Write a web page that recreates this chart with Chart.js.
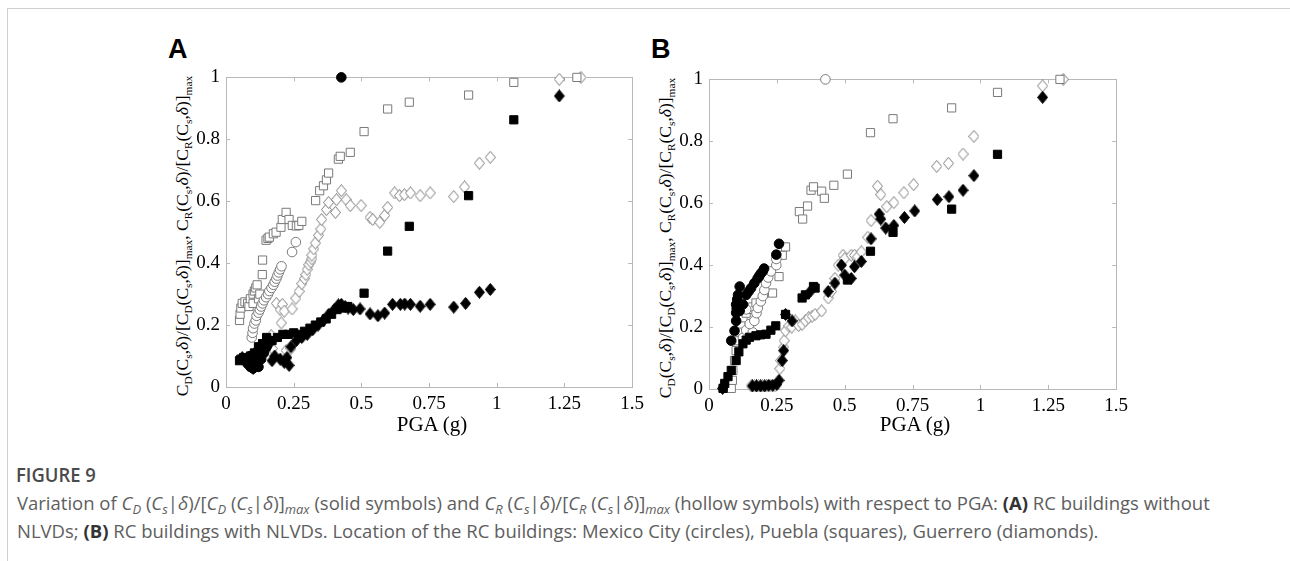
<!DOCTYPE html>
<html>
<head>
<meta charset="utf-8">
<script src="https://cdn.jsdelivr.net/npm/chart.js@4.4.1/dist/chart.umd.min.js"></script>
<style>
  body { margin: 0; background: #fff; width: 1290px; height: 561px; overflow: hidden; position: relative; }
  .frame { position: absolute; left: 7px; top: 8px; width: 1400px; height: 700px; border-left: 1px solid #cfcfcf; border-top: 1px solid #cfcfcf; }
  canvas { position: absolute; }
  .letter { position: absolute; top: 36px; font: bold 27px/27px "Liberation Sans", Arial, sans-serif; color: #000; }
  .ytitle { position: absolute; width: 360px; height: 24px; line-height: 24px; text-align: center; white-space: nowrap;
            font: 17.5px "Liberation Serif", "Times New Roman", serif; color: #000; transform: rotate(-90deg); }
  .ytitle sub { font-size: 0.65em; line-height: 0; vertical-align: -0.35em; }
  .xtitle { position: absolute; top: 414px; width: 200px; text-align: center; font: 21px/21px "Liberation Serif", serif; color: #000; }
  .fig { position: absolute; left: 16px; top: 462px; font: 600 20px/26px "Open Sans", sans-serif; color: #4a4a4a; transform: scaleX(0.92); transform-origin: left top; }
  .caption { position: absolute; left: 17px; top: 489px; font: 18.5px/28px "Open Sans", sans-serif; color: #5e5e5e; white-space: nowrap; }
  .caption sub { font-size: 0.7em; line-height: 0; vertical-align: -0.3em; }
  .caption b { font-weight: 700; color: #333; }
</style>
</head>
<body>
<div class="frame"></div>

<div class="letter" style="left:168px">A</div>
<div class="letter" style="left:651px">B</div>

<div class="ytitle" style="left:4px; top:224px">C<sub>D</sub>(C<sub>s</sub>,<i>δ</i>)/[C<sub>D</sub>(C<sub>s</sub>,<i>δ</i>)]<sub>max</sub>, C<sub>R</sub>(C<sub>s</sub>,<i>δ</i>)/[C<sub>R</sub>(C<sub>s</sub>,<i>δ</i>)]<sub>max</sub></div>
<div class="ytitle" style="left:487px; top:226px">C<sub>D</sub>(C<sub>s</sub>,<i>δ</i>)/[C<sub>D</sub>(C<sub>s</sub>,<i>δ</i>)]<sub>max</sub>, C<sub>R</sub>(C<sub>s</sub>,<i>δ</i>)/[C<sub>R</sub>(C<sub>s</sub>,<i>δ</i>)]<sub>max</sub></div>

<canvas id="chartA" width="520" height="375" style="left:130px; top:60px"></canvas>
<canvas id="chartB" width="521" height="375" style="left:613px; top:62px"></canvas>

<div class="xtitle" style="left:332px">PGA (g)</div>
<div class="xtitle" style="left:815px">PGA (g)</div>

<div class="fig">FIGURE 9</div>
<div class="caption">Variation of <i>C<sub>D</sub></i> (<i>C<sub>s</sub></i>|<i>δ</i>)/[<i>C<sub>D</sub></i> (<i>C<sub>s</sub></i>|<i>δ</i>)]<sub><i>max</i></sub> (solid symbols) and <i>C<sub>R</sub></i> (<i>C<sub>s</sub></i>|<i>δ</i>)/[<i>C<sub>R</sub></i> (<i>C<sub>s</sub></i>|<i>δ</i>)]<sub><i>max</i></sub> (hollow symbols) with respect to PGA: <b>(A)</b> RC buildings without<br>NLVDs; <b>(B)</b> RC buildings with NLVDs. Location of the RC buildings: Mexico City (circles), Puebla (squares), Guerrero (diamonds).</div>

<script>
const xTickLabels = ['0', '0.25', '0.5', '0.75', '1', '1.25', '1.5'];
const yTickLabels = ['0', '0.2', '0.4', '0.6', '0.8', '1'];

// Panel A: RC buildings without NLVDs  [PGA (g), normalised value]
const aCircleSolid = [[0.426,1.0],[0.08,0.075],[0.09,0.065],[0.1,0.06],[0.11,0.07],[0.12,0.065],[0.1,0.09],[0.09,0.1],[0.13,0.09],[0.14,0.11],[0.12,0.12],[0.15,0.13],[0.16,0.15]];
const aCircleHollow = [[0.095,0.16],[0.098,0.175],[0.1,0.19],[0.105,0.205],[0.11,0.215],[0.113,0.23],[0.12,0.24],[0.125,0.25],[0.13,0.26],[0.135,0.27],[0.14,0.28],[0.148,0.29],[0.155,0.3],[0.16,0.31],[0.168,0.32],[0.175,0.33],[0.18,0.34],[0.186,0.35],[0.19,0.36],[0.195,0.37],[0.2,0.38],[0.205,0.39],[0.244,0.436],[0.258,0.468]];
const aSquareSolid = [[0.05,0.085],[0.055,0.09],[0.065,0.095],[0.075,0.09],[0.09,0.1],[0.105,0.11],[0.12,0.13],[0.135,0.14],[0.15,0.16],[0.17,0.15],[0.19,0.16],[0.21,0.17],[0.23,0.17],[0.25,0.175],[0.27,0.17],[0.29,0.18],[0.31,0.19],[0.33,0.2],[0.35,0.21],[0.37,0.22],[0.39,0.235],[0.41,0.25],[0.43,0.255],[0.45,0.26],[0.51,0.303],[0.597,0.439],[0.677,0.519],[0.896,0.618],[1.063,0.863]];
const aSquareHollow = [[0.05,0.215],[0.052,0.235],[0.055,0.255],[0.06,0.27],[0.07,0.275],[0.08,0.27],[0.085,0.26],[0.09,0.285],[0.1,0.3],[0.1,0.27],[0.105,0.31],[0.11,0.32],[0.115,0.33],[0.12,0.285],[0.125,0.3],[0.134,0.363],[0.135,0.41],[0.148,0.474],[0.155,0.48],[0.16,0.484],[0.175,0.495],[0.185,0.5],[0.203,0.516],[0.208,0.541],[0.222,0.564],[0.233,0.541],[0.245,0.522],[0.26,0.52],[0.269,0.522],[0.28,0.535],[0.331,0.602],[0.346,0.634],[0.36,0.65],[0.371,0.669],[0.379,0.691],[0.415,0.736],[0.422,0.745],[0.459,0.758],[0.51,0.825],[0.597,0.898],[0.677,0.92],[0.896,0.943],[1.063,0.984],[1.296,1.0]];
const aDiamondSolid = [[0.06,0.095],[0.075,0.08],[0.09,0.07],[0.1,0.06],[0.115,0.075],[0.13,0.1],[0.145,0.12],[0.16,0.14],[0.17,0.085],[0.18,0.1],[0.2,0.09],[0.215,0.08],[0.233,0.07],[0.225,0.095],[0.24,0.13],[0.26,0.15],[0.28,0.16],[0.3,0.17],[0.32,0.185],[0.34,0.2],[0.36,0.215],[0.38,0.235],[0.4,0.25],[0.415,0.265],[0.426,0.267],[0.44,0.26],[0.451,0.255],[0.47,0.25],[0.495,0.252],[0.532,0.236],[0.561,0.23],[0.586,0.239],[0.615,0.267],[0.644,0.267],[0.66,0.268],[0.681,0.267],[0.717,0.261],[0.754,0.267],[0.841,0.258],[0.885,0.27],[0.936,0.306],[0.976,0.315],[1.231,0.94]];
const aDiamondHollow = [[0.171,0.124],[0.167,0.166],[0.186,0.27],[0.2,0.25],[0.204,0.207],[0.208,0.267],[0.215,0.245],[0.222,0.118],[0.24,0.124],[0.244,0.252],[0.258,0.287],[0.27,0.309],[0.28,0.334],[0.29,0.35],[0.295,0.363],[0.3,0.38],[0.306,0.395],[0.313,0.404],[0.317,0.414],[0.317,0.426],[0.324,0.446],[0.33,0.465],[0.342,0.49],[0.35,0.51],[0.353,0.541],[0.371,0.573],[0.379,0.596],[0.404,0.564],[0.408,0.605],[0.426,0.634],[0.444,0.605],[0.459,0.586],[0.499,0.586],[0.532,0.548],[0.542,0.541],[0.568,0.532],[0.586,0.554],[0.597,0.58],[0.623,0.627],[0.641,0.618],[0.659,0.621],[0.681,0.627],[0.717,0.618],[0.754,0.627],[0.841,0.615],[0.881,0.646],[0.936,0.723],[0.976,0.742],[1.231,0.994],[1.311,1.0]];

// Panel B: RC buildings with NLVDs
const bCircleSolid = [[0.082,0.156],[0.094,0.188],[0.1,0.22],[0.1,0.246],[0.1,0.273],[0.107,0.304],[0.113,0.331],[0.104,0.29],[0.102,0.26],[0.113,0.252],[0.125,0.273],[0.137,0.304],[0.146,0.315],[0.155,0.326],[0.167,0.342],[0.179,0.357],[0.185,0.365],[0.191,0.373],[0.198,0.38],[0.203,0.389],[0.248,0.434],[0.258,0.469]];
const bCircleHollow = [[0.429,1.0],[0.125,0.165],[0.137,0.19],[0.161,0.183],[0.137,0.257],[0.15,0.21],[0.167,0.22],[0.175,0.245],[0.18,0.262],[0.191,0.283],[0.198,0.3],[0.204,0.32],[0.21,0.342],[0.218,0.36],[0.228,0.38],[0.248,0.4],[0.248,0.42]];
const bSquareSolid = [[0.052,0.002],[0.058,0.018],[0.07,0.04],[0.082,0.06],[0.1,0.092],[0.11,0.12],[0.125,0.146],[0.137,0.158],[0.149,0.167],[0.173,0.172],[0.19,0.175],[0.21,0.177],[0.228,0.19],[0.246,0.204],[0.282,0.241],[0.343,0.294],[0.355,0.304],[0.385,0.331],[0.391,0.326],[0.51,0.352],[0.595,0.445],[0.678,0.506],[0.894,0.581],[1.063,0.758]];
const bSquareHollow = [[0.052,0.002],[0.082,0.002],[0.086,0.028],[0.088,0.06],[0.094,0.092],[0.1,0.124],[0.107,0.156],[0.113,0.188],[0.118,0.21],[0.125,0.23],[0.137,0.245],[0.149,0.257],[0.16,0.265],[0.173,0.278],[0.203,0.31],[0.234,0.31],[0.258,0.363],[0.27,0.432],[0.282,0.459],[0.333,0.573],[0.345,0.549],[0.363,0.591],[0.376,0.642],[0.385,0.653],[0.415,0.639],[0.425,0.616],[0.46,0.658],[0.51,0.694],[0.595,0.828],[0.678,0.873],[0.894,0.908],[1.063,0.958],[1.293,1.0]];
const bDiamondSolid = [[0.05,0.002],[0.16,0.01],[0.175,0.01],[0.19,0.01],[0.205,0.01],[0.22,0.012],[0.235,0.012],[0.25,0.015],[0.258,0.028],[0.27,0.092],[0.275,0.124],[0.282,0.241],[0.306,0.22],[0.373,0.315],[0.439,0.315],[0.464,0.342],[0.488,0.4],[0.5,0.368],[0.524,0.357],[0.536,0.395],[0.561,0.412],[0.597,0.485],[0.627,0.565],[0.633,0.549],[0.651,0.52],[0.681,0.528],[0.72,0.554],[0.758,0.575],[0.841,0.612],[0.884,0.621],[0.936,0.642],[0.976,0.689],[1.229,0.942]];
const bDiamondHollow = [[0.155,0.01],[0.168,0.01],[0.182,0.01],[0.197,0.01],[0.212,0.01],[0.228,0.01],[0.243,0.01],[0.261,0.066],[0.264,0.092],[0.275,0.135],[0.277,0.156],[0.282,0.188],[0.294,0.204],[0.305,0.2],[0.318,0.22],[0.33,0.205],[0.343,0.209],[0.355,0.22],[0.367,0.23],[0.38,0.235],[0.391,0.241],[0.415,0.252],[0.439,0.294],[0.451,0.315],[0.464,0.357],[0.476,0.4],[0.494,0.432],[0.5,0.421],[0.524,0.432],[0.536,0.432],[0.548,0.427],[0.561,0.443],[0.585,0.49],[0.597,0.544],[0.621,0.655],[0.633,0.628],[0.655,0.589],[0.681,0.602],[0.718,0.634],[0.754,0.66],[0.839,0.719],[0.882,0.729],[0.936,0.759],[0.976,0.816],[1.229,0.979],[1.305,1.0]];

const HOLLOW = '#7a7a7a';

// diamonds in the figure are a little taller than wide, so draw them by hand
function diamond(solid) {
    const c = document.createElement('canvas');
    c.width = 11; c.height = 13;
    const g = c.getContext('2d');
    g.beginPath();
    g.moveTo(5.5, 0.5); g.lineTo(10.5, 6.5); g.lineTo(5.5, 12.5); g.lineTo(0.5, 6.5);
    g.closePath();
    g.fillStyle = solid ? '#000' : '#fff';
    g.fill();
    g.strokeStyle = solid ? '#000' : HOLLOW;
    g.lineWidth = 1;
    g.stroke();
    return c;
}

function series(pts, shape, solid) {
    const ds = {
        data: pts.map(p => ({ x: p[0], y: p[1] })),
        backgroundColor: solid ? '#000' : '#fff',
        borderColor: solid ? '#000' : HOLLOW,
        borderWidth: 1,
        clip: false
    };
    if (shape === 'diamond') {
        ds.pointStyle = diamond(solid);
        ds.pointRadius = 6;
    } else if (shape === 'square') {
        ds.pointStyle = 'rect';
        ds.pointRadius = 5.8;
    } else {
        ds.pointStyle = 'circle';
        ds.pointRadius = 4.8;
    }
    return ds;
}

// box round the plot with small inward ticks on all four sides
const framePlugin = {
    id: 'frame',
    beforeDatasetsDraw(chart) {
        const { ctx, chartArea: a, scales: { x, y } } = chart;
        ctx.save();
        ctx.strokeStyle = '#b8b8b8';
        ctx.lineWidth = 1;
        ctx.strokeRect(Math.round(a.left) + 0.5, Math.round(a.top) + 0.5, Math.round(a.right - a.left), Math.round(a.bottom - a.top));
        ctx.beginPath();
        x.ticks.forEach(t => {
            const px = Math.round(x.getPixelForValue(t.value)) + 0.5;
            ctx.moveTo(px, a.bottom); ctx.lineTo(px, a.bottom - 4);
            ctx.moveTo(px, a.top); ctx.lineTo(px, a.top + 4);
        });
        y.ticks.forEach(t => {
            const py = Math.round(y.getPixelForValue(t.value)) + 0.5;
            ctx.moveTo(a.left, py); ctx.lineTo(a.left + 4, py);
            ctx.moveTo(a.right, py); ctx.lineTo(a.right - 4, py);
        });
        ctx.stroke();
        ctx.restore();
    }
};

const tickFont = { family: '"Liberation Serif", "Times New Roman", serif', size: 19 };

function makeChart(id, datasets) {
    return new Chart(document.getElementById(id), {
        type: 'scatter',
        data: { datasets: datasets },
        options: {
            responsive: false,
            animation: false,
            events: [],
            layout: { padding: { top: 13, right: 12, left: 0, bottom: 0 } },
            plugins: { legend: { display: false }, tooltip: { enabled: false } },
            scales: {
                x: {
                    type: 'linear', min: 0, max: 1.5,
                    grid: { display: false, drawTicks: false },
                    border: { display: false },
                    ticks: { stepSize: 0.25, autoSkip: false, maxRotation: 0, padding: 6, color: '#000', font: tickFont,
                             callback: (v, i) => xTickLabels[i] },
                    afterFit: s => { s.height = 48; }
                },
                y: {
                    type: 'linear', min: 0, max: 1,
                    grid: { display: false, drawTicks: false },
                    border: { display: false },
                    ticks: { stepSize: 0.2, padding: 6, color: '#000', font: tickFont,
                             callback: (v, i) => yTickLabels[i] },
                    afterFit: s => { s.width = 96; }
                }
            }
        },
        plugins: [framePlugin]
    });
}

makeChart('chartA', [
    series(aCircleSolid, 'circle', true),
    series(aSquareSolid, 'square', true),
    series(aDiamondSolid, 'diamond', true),
    series(aCircleHollow, 'circle', false),
    series(aSquareHollow, 'square', false),
    series(aDiamondHollow, 'diamond', false)
]);

makeChart('chartB', [
    series(bCircleSolid, 'circle', true),
    series(bSquareSolid, 'square', true),
    series(bDiamondSolid, 'diamond', true),
    series(bCircleHollow, 'circle', false),
    series(bSquareHollow, 'square', false),
    series(bDiamondHollow, 'diamond', false)
]);
</script>
</body>
</html>
